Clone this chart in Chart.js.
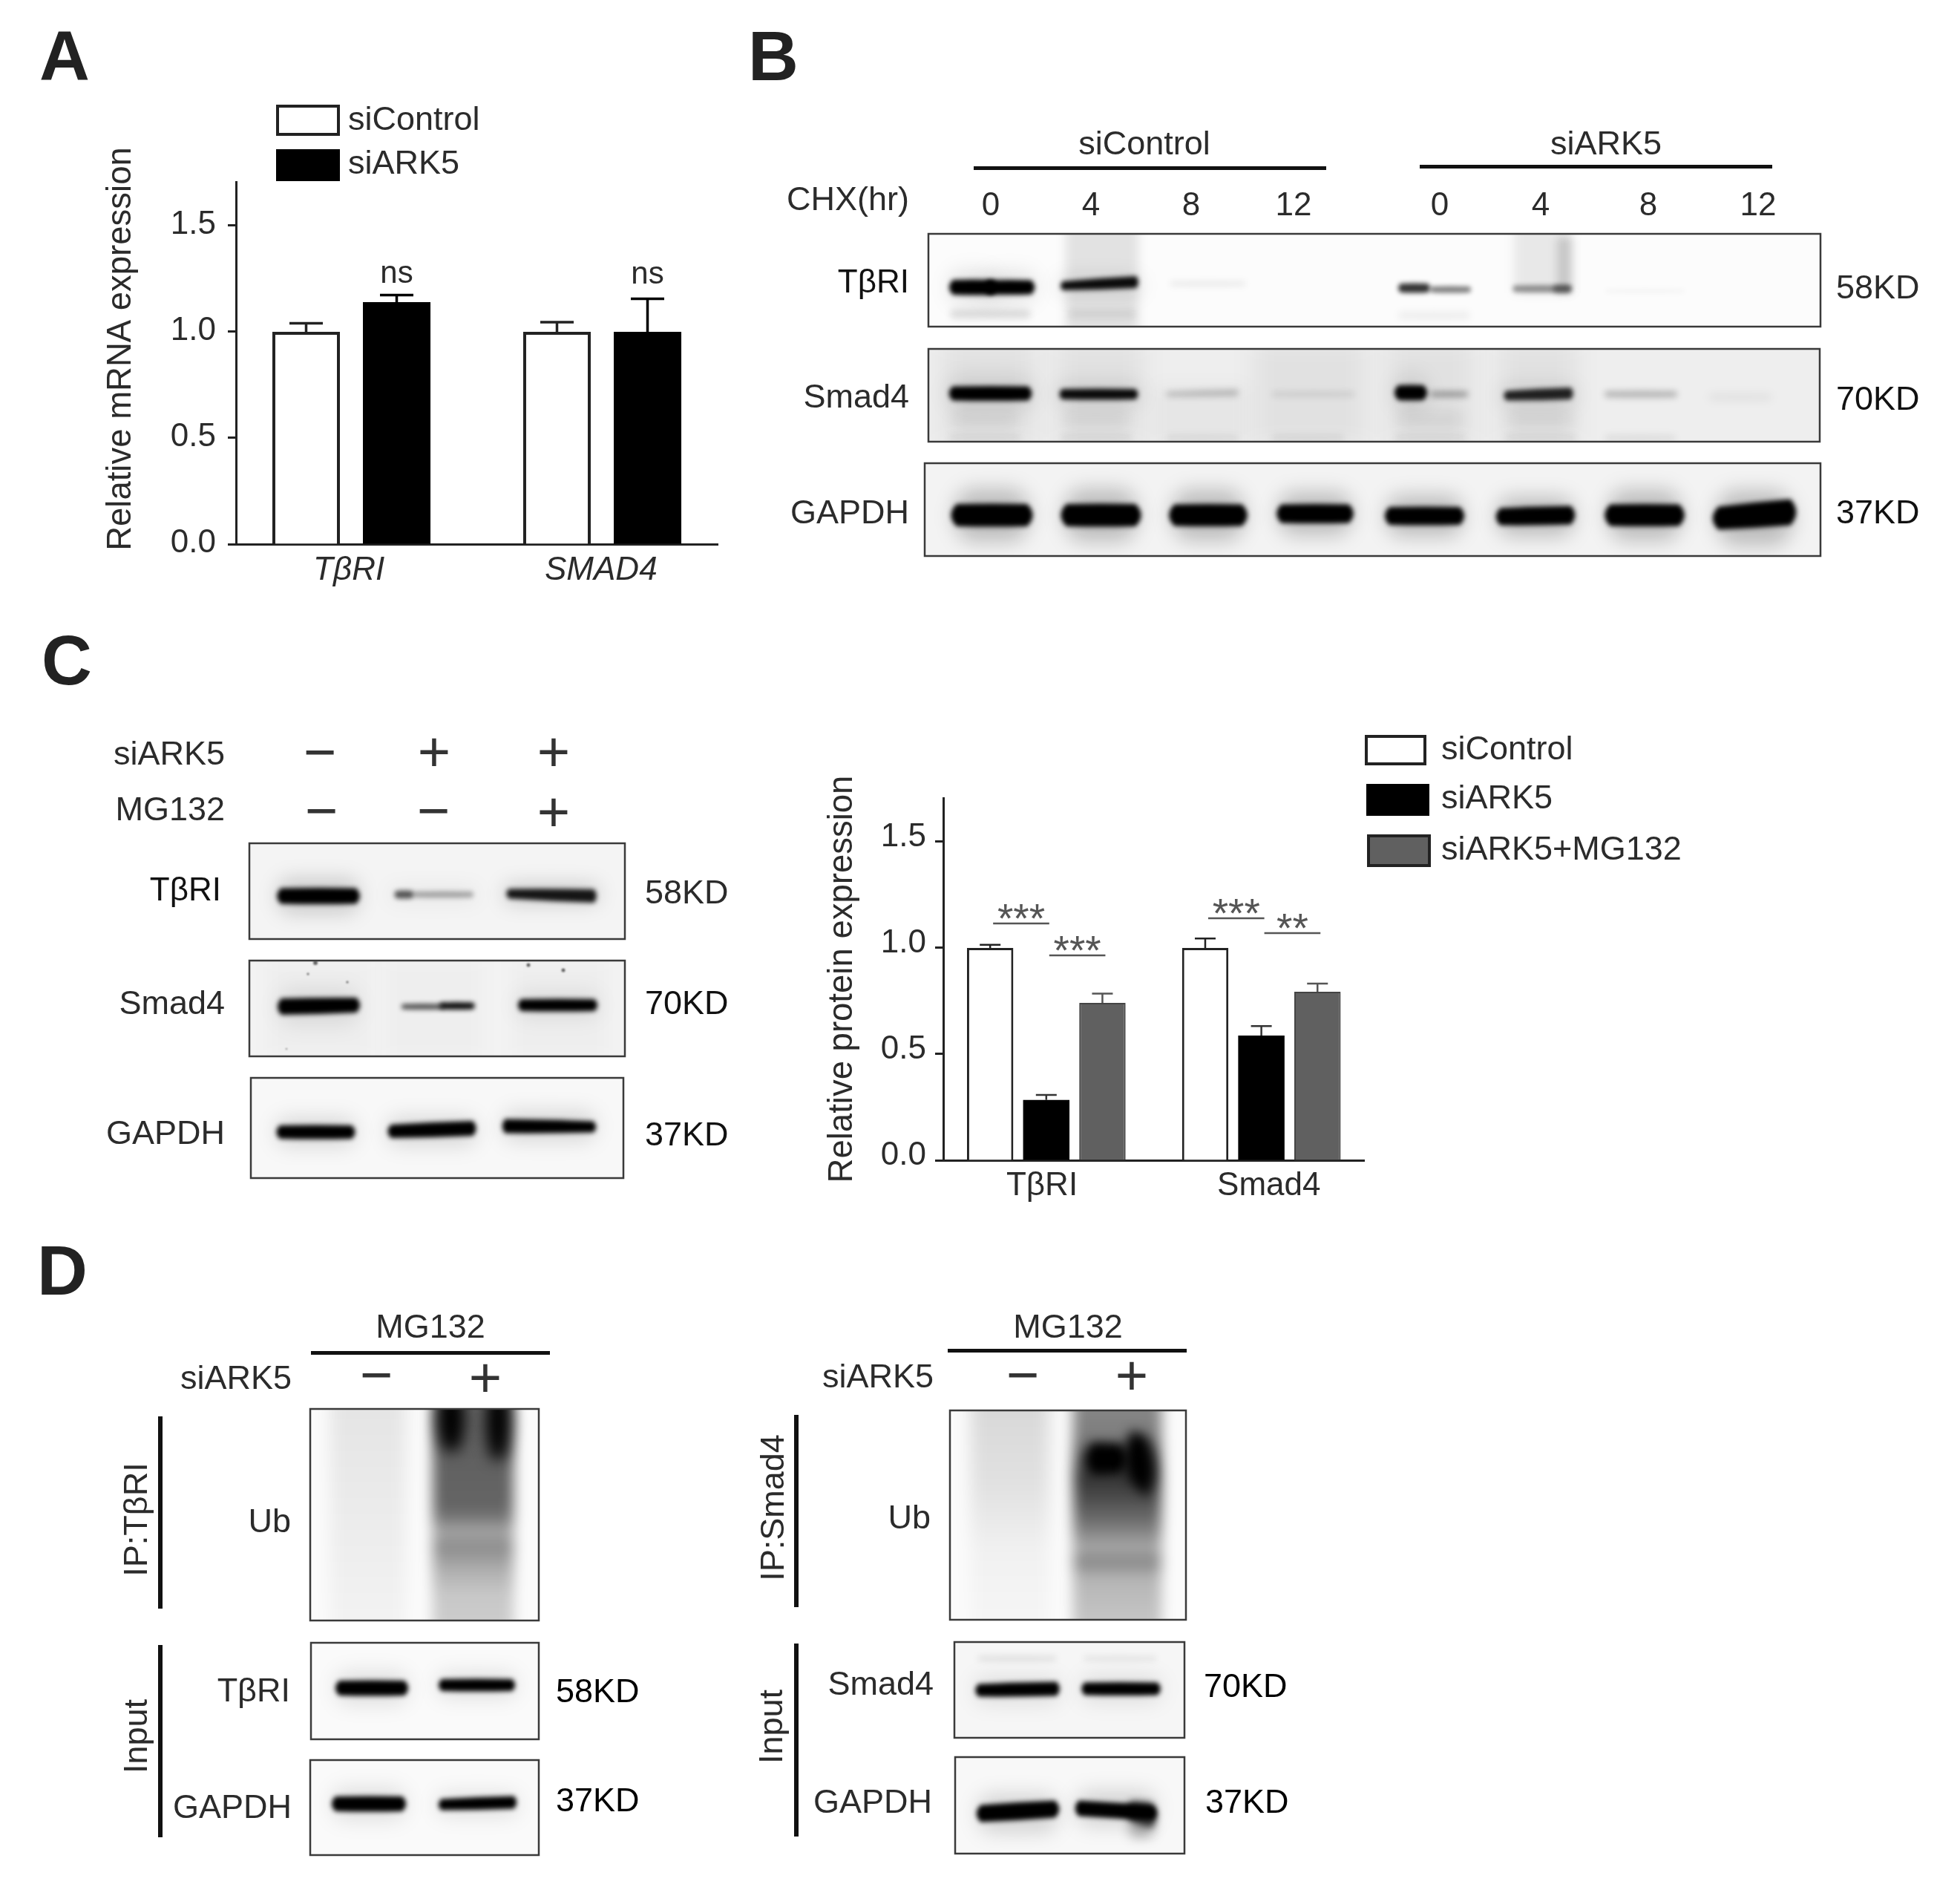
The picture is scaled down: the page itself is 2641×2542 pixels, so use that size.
<!DOCTYPE html>
<html>
<head>
<meta charset="utf-8">
<title>ARK5 blots</title>
<script src="https://cdn.jsdelivr.net/npm/chart.js@4/dist/chart.umd.min.js"></script>
<style>
html, body { margin: 0; padding: 0; background: #fff; }
#page { position: relative; width: 2641px; height: 2542px; overflow: hidden; filter: blur(0.7px); font-family: "Liberation Sans", Arial, sans-serif; color: #2b2b2b; }
#page canvas { position: absolute; }
.t { position: absolute; white-space: nowrap; line-height: 1.15; }
.r { position: absolute; box-sizing: border-box; }
</style>
</head>
<body>
<div id="page">
<canvas id="gels" width="2641" height="2542" style="left:0;top:0"></canvas>
<canvas id="chartA" width="832" height="618" style="left:136px;top:185px"></canvas>
<canvas id="chartC" width="731" height="623" style="left:1108px;top:1010px"></canvas>
</div>
<script>
// panel A, relative mRNA
const genesA = ['TβRI', 'SMAD4'];
const controlA = [1.0, 1.0];
const ark5A = [1.14, 1.0];
const controlErrA = [0.04, 0.045];
const ark5ErrA = [0.033, 0.155];

// panel C, relative protein
const genesC = ['TβRI', 'Smad4'];
const controlC = [1.0, 1.0];
const ark5C = [0.284, 0.587];
const mg132C = [0.741, 0.794];
const controlErrC = [0.015, 0.044];
const ark5ErrC = [0.024, 0.045];
const mg132ErrC = [0.044, 0.038];

const yTicks = [0, 0.5, 1, 1.5];
const yMax = 1.706;

// significance marks: dataset index pair in a group, height in axis units
const nsA = [[0, 1, 1.272], [1, 1, 1.268]];
const sigC = [
    [0, 0, 1, 1.115, '***'],
    [0, 1, 2, 0.965, '***'],
    [1, 0, 1, 1.14, '***'],
    [1, 1, 2, 1.07, '**']
];

const page = document.getElementById('page');
const FONT = '"Liberation Sans", Arial, sans-serif';

function txt(s, x, y, o = {}) {
    const d = document.createElement('div');
    d.className = 't';
    d.textContent = s;
    const tx = o.a === 'r' ? '-100%' : o.a === 'l' ? '0' : '-50%';
    d.style.left = x + 'px';
    d.style.top = y + 'px';
    d.style.fontSize = (o.size || 44) + 'px';
    d.style.color = o.color || '#2b2b2b';
    if (o.weight) d.style.fontWeight = o.weight;
    d.style.transform = `translate(${tx},-50%)` + (o.rot ? ' rotate(-90deg)' : '');
    page.appendChild(d);
}

function rect(x0, y0, x1, y1, fill, border, bw) {
    const d = document.createElement('div');
    d.className = 'r';
    d.style.left = x0 + 'px';
    d.style.top = y0 + 'px';
    d.style.width = (x1 - x0) + 'px';
    d.style.height = (y1 - y0) + 'px';
    d.style.background = fill;
    if (border) d.style.border = `${bw}px solid ${border}`;
    page.appendChild(d);
}

// error bars and little labels on top of the bars
const barExtras = {
    id: 'barExtras',
    afterDatasetsDraw(chart, args, opts) {
        const ctx = chart.ctx;
        const y = chart.scales.y;
        ctx.save();
        chart.data.datasets.forEach((ds, i) => {
            const meta = chart.getDatasetMeta(i);
            ctx.strokeStyle = ds.errColor;
            ctx.lineWidth = opts.errWidth;
            meta.data.forEach((bar, k) => {
                const top = y.getPixelForValue(ds.data[k].y + ds.errUp[k]);
                const base = y.getPixelForValue(ds.data[k].y);
                ctx.beginPath();
                ctx.moveTo(bar.x, base);
                ctx.lineTo(bar.x, top);
                ctx.moveTo(bar.x - opts.cap / 2, top);
                ctx.lineTo(bar.x + opts.cap / 2, top);
                ctx.stroke();
            });
        });
        ctx.textAlign = 'center';
        (opts.ns || []).forEach(([group, dsIdx, v]) => {
            const bar = chart.getDatasetMeta(dsIdx).data[group];
            ctx.font = '42px ' + FONT;
            ctx.fillStyle = '#2b2b2b';
            ctx.textBaseline = 'middle';
            ctx.fillText('ns', bar.x, y.getPixelForValue(v));
        });
        (opts.sig || []).forEach(([group, a, b, v, label]) => {
            const xa = chart.getDatasetMeta(a).data[group].x + 4;
            const xb = chart.getDatasetMeta(b).data[group].x + 4;
            const py = y.getPixelForValue(v);
            ctx.strokeStyle = '#555';
            ctx.lineWidth = 2.5;
            ctx.beginPath();
            ctx.moveTo(xa, py);
            ctx.lineTo(xb, py);
            ctx.stroke();
            ctx.font = '55px ' + FONT;
            ctx.fillStyle = '#555';
            ctx.textBaseline = 'alphabetic';
            ctx.fillText(label, (xa + xb) / 2, py + 12);
        });
        ctx.restore();
    }
};

function yScale(title, w, tickPad, labelOffset) {
    return {
        min: 0,
        max: yMax,
        afterBuildTicks: s => { s.ticks = yTicks.map(v => ({ value: v })); },
        afterFit: s => { s.width = w; s.paddingTop = 0; s.paddingBottom = 0; },
        border: { color: '#222', width: 3 },
        grid: { drawOnChartArea: false, color: '#222', tickLength: 11, tickWidth: 3 },
        ticks: {
            padding: tickPad,
            labelOffset: labelOffset,
            color: '#2b2b2b',
            font: { family: FONT, size: 44 },
            callback: v => v.toFixed(1)
        },
        title: { display: true, text: title, color: '#2b2b2b', padding: 0, font: { family: FONT, size: 45.5 } }
    };
}

function xScale(vmin, vmax, tickAt, labels, italic, pad) {
    return {
        type: 'linear',
        offset: false,
        min: vmin,
        max: vmax,
        afterBuildTicks: s => { s.ticks = tickAt.map(v => ({ value: v })); },
        afterFit: s => { s.height = 70; s.paddingLeft = 0; s.paddingRight = 0; },
        border: { color: '#222', width: 3 },
        grid: { display: false },
        ticks: {
            padding: pad,
            color: '#2b2b2b',
            autoSkip: false,
            maxRotation: 0,
            font: { family: FONT, size: 44, style: italic ? 'italic' : 'normal' },
            callback: (v, i) => labels[i]
        }
    };
}

const xy = arr => arr.map((v, i) => ({ x: i + 1, y: v }));

new Chart(document.getElementById('chartA'), {
    type: 'bar',
    data: {
        datasets: [
            { label: 'siControl', data: xy(controlA), errUp: controlErrA, errColor: '#222', backgroundColor: '#fff', borderColor: '#222', borderWidth: 4 },
            { label: 'siARK5', data: xy(ark5A), errUp: ark5ErrA, errColor: '#000', backgroundColor: '#000', borderColor: '#000', borderWidth: 0 }
        ]
    },
    options: {
        responsive: false,
        animation: false,
        layout: { padding: { top: 60 } },
        categoryPercentage: 0.722,
        barPercentage: 0.746,
        scales: {
            x: xScale(0.53994, 2.463, [0.99, 1.995], genesA, true, 1),
            y: yScale('   Relative mRNA expression', 182, 16, -1)
        },
        plugins: {
            legend: { display: false },
            tooltip: { enabled: false },
            barExtras: { errWidth: 3.5, cap: 45, ns: nsA }
        }
    },
    plugins: [barExtras]
});

new Chart(document.getElementById('chartC'), {
    type: 'bar',
    data: {
        datasets: [
            { label: 'siControl', data: xy(controlC), errUp: controlErrC, errColor: '#222', backgroundColor: '#fff', borderColor: '#222', borderWidth: 3 },
            { label: 'siARK5', data: xy(ark5C), errUp: ark5ErrC, errColor: '#333', backgroundColor: '#000', borderColor: '#000', borderWidth: 0 },
            { label: 'siARK5+MG132', data: xy(mg132C), errUp: mg132ErrC, errColor: '#555', backgroundColor: '#606060', borderColor: '#444', borderWidth: 2 }
        ]
    },
    options: {
        responsive: false,
        animation: false,
        layout: { padding: { top: 65 } },
        categoryPercentage: 0.783,
        barPercentage: 0.826,
        scales: {
            x: xScale(0.521, 2.481, [0.98, 2.035], genesC, false, 0),
            y: yScale('Relative protein expression', 163, 12, -6)
        },
        plugins: {
            legend: { display: false },
            tooltip: { enabled: false },
            barExtras: { errWidth: 2.5, cap: 28, sig: sigC }
        }
    },
    plugins: [barExtras]
});

// ---- gel pictures, painted by hand on the back canvas ----
const g = document.getElementById('gels').getContext('2d');

function band(x0, x1, y, h, a, yR, hR, blur) {
    const y2 = yR === undefined ? y : yR;
    const h2 = hR === undefined ? h : hR;
    const r = Math.min(Math.min(h, h2) / 2, (x1 - x0) / 3);
    g.filter = `blur(${blur || 3}px)`;
    g.fillStyle = `rgba(0,0,0,${a})`;
    g.beginPath();
    g.moveTo(x0 + r, y - h / 2);
    g.quadraticCurveTo((x0 + x1) / 2, (y + y2) / 2 - (h + h2) / 4 - 1, x1 - r, y2 - h2 / 2);
    g.quadraticCurveTo(x1, y2, x1 - r, y2 + h2 / 2);
    g.quadraticCurveTo((x0 + x1) / 2, (y + y2) / 2 + (h + h2) / 4 + 1, x0 + r, y + h / 2);
    g.quadraticCurveTo(x0, y, x0 + r, y - h / 2);
    g.fill();
    g.filter = 'none';
}

function halo(x0, x1, y, h, a) {
    band(x0 - 10, x1 + 10, y, h * 2.6, a, y, h * 2.6, 13);
}

function smear(x0, x1, y0, y1, a, blur) {
    g.filter = `blur(${blur || 8}px)`;
    g.fillStyle = `rgba(0,0,0,${a})`;
    g.fillRect(x0, y0, x1 - x0, y1 - y0);
    g.filter = 'none';
}

// lane with darkness stops going down the gel: [y, alpha]
function laneFade(x0, x1, stops, blur) {
    const y0 = stops[0][0];
    const y1 = stops[stops.length - 1][0];
    const lg = g.createLinearGradient(0, y0, 0, y1);
    stops.forEach(s => lg.addColorStop((s[0] - y0) / (y1 - y0), `rgba(0,0,0,${s[1]})`));
    g.filter = `blur(${blur || 9}px)`;
    g.fillStyle = lg;
    g.fillRect(x0, y0, x1 - x0, y1 - y0);
    g.filter = 'none';
}

function gel(x0, y0, x1, y1, bg, paint, border) {
    g.save();
    g.beginPath();
    g.rect(x0, y0, x1 - x0, y1 - y0);
    g.clip();
    g.fillStyle = bg;
    g.fillRect(x0, y0, x1 - x0, y1 - y0);
    paint();
    g.restore();
    g.strokeStyle = border || '#3a3a3a';
    g.lineWidth = 2.5;
    g.strokeRect(x0, y0, x1 - x0, y1 - y0);
}

const strong = (list, k) => list.forEach(b => {
    halo(b[0], b[1], b[2], b[3], k);
    band(b[0] - 3, b[1] + 3, b[2], b[3] + 3, b[4], b[5], b[6] === undefined ? undefined : b[6] + 3);
});

// panel B
gel(1251, 315, 2453, 440, '#fcfcfc', () => {
    smear(1436, 1534, 300, 450, 0.1, 7);
    smear(2040, 2118, 300, 395, 0.08, 7);
    smear(2098, 2118, 320, 395, 0.14, 6);
    [[1277, 1392, 423, 12, 0.12], [1436, 1534, 423, 12, 0.07], [1881, 1984, 425, 12, 0.05]].forEach(b => band(b[0], b[1], b[2], b[3], b[4], undefined, undefined, 5));
    strong([[1277, 1345, 387, 17, 1], [1325, 1396, 387, 16, 1], [1429, 1534, 385, 9, 0.95, 380, 13]], 0.1);
    band(1575, 1680, 382, 6, 0.08, undefined, undefined, 4);
    band(1881, 1930, 388, 12, 0.8);
    band(1925, 1984, 390, 8, 0.5);
    band(2036, 2120, 389, 9, 0.4);
    band(2090, 2120, 389, 10, 0.35);
    band(2162, 2271, 392, 5, 0.03);
});
gel(1251, 470, 2452, 595, '#eeeeee', () => {
    [[1270, 1395], [1425, 1540], [1690, 1840], [1870, 1985], [2020, 2125]].forEach(l => smear(l[0], l[1], 460, 600, 0.05, 16));
    smear(1555, 1680, 520, 600, 0.03, 12);
    [1277, 1427, 1570, 1712, 1877, 2026, 2160].forEach(x => band(x, x + 100, 590, 8, 0.07, undefined, undefined, 5));
    [1277, 1427, 1877, 2026].forEach(x => band(x, x + 100, 565, 24, 0.06, 565, 24, 9));
    strong([[1277, 1392, 530, 16, 1], [1427, 1534, 531, 11, 0.95], [1877, 1925, 529, 17, 1], [2026, 2120, 533, 10, 0.85, 530, 13]], 0.1);
    band(1570, 1670, 531, 6, 0.22, 529, 9, 4);
    band(1712, 1827, 531, 6, 0.1, undefined, undefined, 4);
    band(1925, 1980, 531, 7, 0.35, undefined, undefined, 4);
    band(2160, 2262, 531, 8, 0.25, undefined, undefined, 4);
    band(2300, 2390, 535, 10, 0.05, undefined, undefined, 6);
});
gel(1246, 624, 2453, 749, '#f3f3f3', () => {
    strong([
        [1277, 1396, 694, 27, 1], [1425, 1542, 694, 27, 1], [1571, 1685, 694, 26, 1], [1717, 1827, 692, 22, 1],
        [1863, 1976, 695, 21, 1], [2013, 2125, 696, 20, 1, 694, 22], [2158, 2274, 694, 26, 1], [2303, 2425, 698, 28, 1, 690, 32]
    ], 0.22);
});

// panel C
gel(336, 1136, 842, 1265, '#f4f4f4', () => {
    strong([[371, 487, 1207, 18, 1], [682, 804, 1204, 10, 0.9, 1207, 15]], 0.16);
    halo(529, 639, 1205, 8, 0.05);
    band(529, 560, 1205, 10, 0.65);
    band(555, 640, 1205, 8, 0.3);
});
gel(336, 1294, 842, 1423, '#f3f3f3', () => {
    [[360, 500], [520, 650], [690, 820]].forEach(l => smear(l[0], l[1], 1294, 1423, 0.02, 12));
    g.filter = 'blur(1px)';
    g.fillStyle = '#666';
    [[425, 1297, 3], [415, 1312, 1.5], [468, 1323, 1.5], [712, 1300, 2.5], [759, 1307, 2.5], [386, 1413, 1]].forEach(d => {
        g.beginPath();
        g.arc(d[0], d[1], d[2], 0, 7);
        g.fill();
    });
    g.filter = 'none';
    strong([[372, 487, 1356, 19, 1, 1354, 17], [697, 806, 1354, 13, 1]], 0.08);
    band(539, 600, 1356, 7, 0.65);
    band(590, 642, 1355, 9, 0.95);
});
gel(338, 1452, 840, 1587, '#f8f8f8', () => {
    strong([[371, 480, 1525, 15, 1], [521, 643, 1524, 15, 1, 1520, 17], [676, 804, 1517, 16, 1, 1518, 12]], 0.12);
});

// panel D left
gel(418, 1898, 726, 2183, '#fbfbfb', () => {
    laneFade(445, 547, [[1880, 0.09], [2050, 0.06], [2200, 0.03]], 11);
    laneFade(583, 692, [[1880, 0.6], [1960, 0.62], [2030, 0.6], [2048, 0.5], [2062, 0.32], [2083, 0.45], [2115, 0.3], [2150, 0.2], [2200, 0.18]], 9);
    band(580, 636, 1912, 84, 1, 1912, 84, 10);
    band(646, 696, 1915, 100, 1, 1915, 100, 10);
});
gel(419, 2213, 726, 2343, '#fafafa', () => {
    strong([[450, 552, 2274, 17, 1], [590, 695, 2270, 13, 1]], 0.1);
});
gel(418, 2371, 726, 2499, '#fafafa', () => {
    strong([[445, 549, 2430, 17, 1], [590, 697, 2431, 12, 1, 2428, 14]], 0.1);
});

// panel D right
gel(1280, 1900, 1598, 2182, '#fbfbfb', () => {
    laneFade(1308, 1414, [[1880, 0.14], [2000, 0.1], [2090, 0.04], [2200, 0.02]], 11);
    laneFade(1446, 1565, [[1880, 0.45], [1935, 0.5], [1990, 0.8], [2030, 0.65], [2050, 0.55], [2075, 0.4], [2084, 0.3], [2103, 0.48], [2125, 0.28], [2200, 0.2]], 9);
    band(1452, 1530, 1965, 44, 1, 1965, 40, 7);
    band(1505, 1565, 1962, 70, 1, 1975, 80, 8);
});
gel(1286, 2212, 1596, 2341, '#f6f6f6', () => {
    band(1316, 1425, 2234, 6, 0.1, undefined, undefined, 4);
    band(1458, 1560, 2234, 6, 0.08, undefined, undefined, 4);
    strong([[1313, 1429, 2277, 14, 1, 2275, 16], [1456, 1565, 2275, 14, 1]], 0.09);
});
gel(1287, 2367, 1596, 2497, '#f8f8f8', () => {
    strong([[1313, 1430, 2443, 20, 1, 2437, 20], [1447, 1560, 2436, 18, 1, 2442, 16]], 0.14);
    band(1510, 1566, 2440, 28, 0.75, 2445, 34, 5);
    band(1515, 1562, 2462, 26, 0.3, 2462, 24, 8);
});

// ---- rules, legends, labels ----
const DK = '#111';
[[1312, 224, 1787, 229], [1913, 222, 2388, 227], [419, 1820, 741, 1825], [1277, 1817, 1599, 1822]].forEach(l => rect(l[0], l[1], l[2], l[3], DK));
[[213, 1908, 219, 2167], [213, 2216, 219, 2475], [1070, 1906, 1076, 2165], [1070, 2214, 1076, 2474]].forEach(l => rect(l[0], l[1], l[2], l[3], DK));

rect(372, 141, 458, 183, '#fff', '#222', 4);
rect(372, 201, 458, 244, '#000');
txt('siControl', 469, 160, { a: 'l', size: 45 });
txt('siARK5', 469, 219, { a: 'l', size: 45 });

rect(1839, 990, 1922, 1031, '#fff', '#222', 4);
rect(1841, 1056, 1926, 1099, '#000');
rect(1842, 1124, 1928, 1168, '#606060', '#222', 4);
txt('siControl', 1942, 1008, { a: 'l', size: 45 });
txt('siARK5', 1942, 1074, { a: 'l', size: 45 });
txt('siARK5+MG132', 1942, 1143, { a: 'l', size: 45 });

[['A', 53, 76], ['B', 1008, 76], ['C', 56, 890], ['D', 50, 1712]].forEach(p => txt(p[0], p[1], p[2], { a: 'l', size: 94, weight: 700, color: '#222' }));

// B labels
txt('siControl', 1542, 193, { size: 45 });
txt('siARK5', 2164, 193, { size: 45 });
txt('CHX(hr)', 1225, 268, { a: 'r', size: 45 });
[['0', 1335], ['4', 1470], ['8', 1605], ['12', 1743], ['0', 1940], ['4', 2076], ['8', 2221], ['12', 2369]].forEach(n => txt(n[0], n[1], 275, { size: 44 }));
txt('TβRI', 1225, 379, { a: 'r', size: 44, color: '#111' });
txt('Smad4', 1225, 534, { a: 'r', size: 45 });
txt('GAPDH', 1225, 690, { a: 'r', size: 45 });
txt('58KD', 2474, 387, { a: 'l', size: 45 });
txt('70KD', 2474, 537, { a: 'l', size: 45, color: '#111' });
txt('37KD', 2474, 690, { a: 'l', size: 45, color: '#111' });

// C labels
txt('siARK5', 303, 1015, { a: 'r', size: 45 });
txt('MG132', 303, 1090, { a: 'r', size: 45 });
const SIGN = { size: 76, color: '#333' };
[['−', 431, 1013], ['+', 585, 1013], ['+', 746, 1013], ['−', 433, 1092], ['−', 584, 1092], ['+', 746, 1094]].forEach(s => txt(s[0], s[1], s[2], SIGN));
txt('TβRI', 298, 1198, { a: 'r', size: 44, color: '#111' });
txt('Smad4', 303, 1351, { a: 'r', size: 45 });
txt('GAPDH', 303, 1526, { a: 'r', size: 45 });
txt('58KD', 869, 1202, { a: 'l', size: 45 });
txt('70KD', 869, 1351, { a: 'l', size: 45, color: '#111' });
txt('37KD', 869, 1528, { a: 'l', size: 45, color: '#111' });

// D labels
txt('MG132', 580, 1787, { size: 45 });
txt('siARK5', 393, 1856, { a: 'r', size: 45 });
txt('−', 507, 1852, SIGN);
txt('+', 654, 1856, SIGN);
txt('IP:TβRI', 183, 2047, { size: 45, rot: true });
txt('Input', 183, 2339, { size: 45, rot: true });
txt('Ub', 392, 2049, { a: 'r', size: 45 });
txt('TβRI', 391, 2277, { a: 'r', size: 45 });
txt('GAPDH', 393, 2434, { a: 'r', size: 45 });
txt('58KD', 749, 2278, { a: 'l', size: 45, color: '#000' });
txt('37KD', 749, 2425, { a: 'l', size: 45, color: '#000' });

txt('MG132', 1439, 1787, { size: 45 });
txt('siARK5', 1258, 1854, { a: 'r', size: 45 });
txt('−', 1378, 1852, SIGN);
txt('+', 1525, 1853, SIGN);
txt('IP:Smad4', 1041, 2031, { size: 45, rot: true });
txt('Input', 1039, 2326, { size: 45, rot: true });
txt('Ub', 1254, 2044, { a: 'r', size: 45 });
txt('Smad4', 1258, 2268, { a: 'r', size: 45 });
txt('GAPDH', 1256, 2427, { a: 'r', size: 45 });
txt('70KD', 1622, 2271, { a: 'l', size: 45, color: '#000' });
txt('37KD', 1624, 2427, { a: 'l', size: 45, color: '#000' });
</script>
</body>
</html>
